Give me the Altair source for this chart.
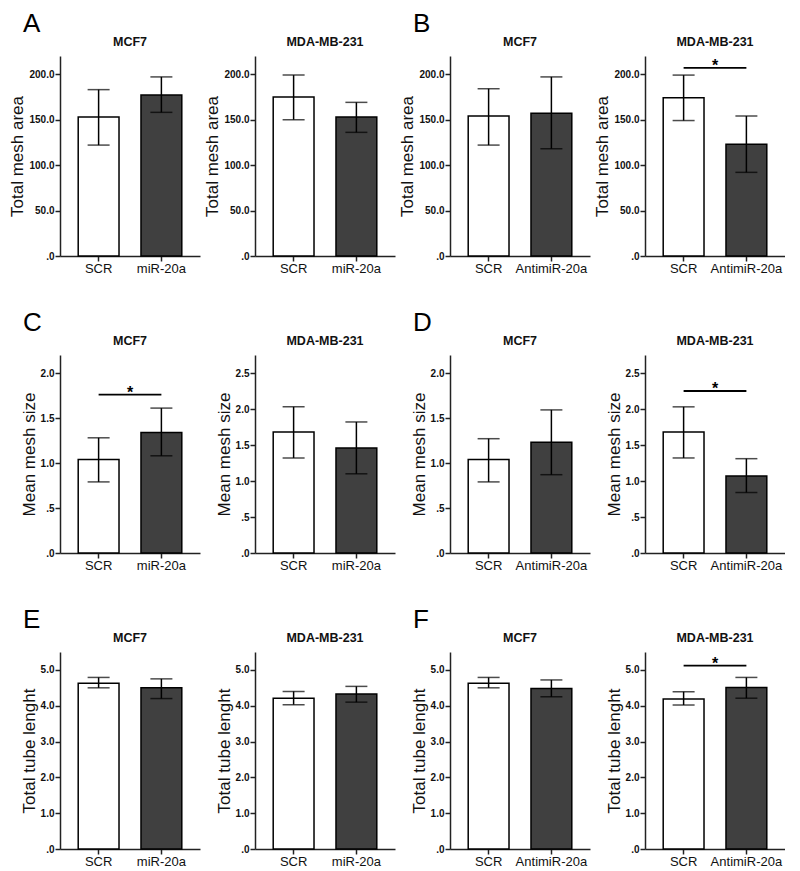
import altair as alt
import pandas as pd

FONT = "Liberation Sans, Arial, Helvetica, sans-serif"

GROUPS_MIR = ["SCR", "miR-20a"]
GROUPS_ANTI = ["SCR", "AntimiR-20a"]

LETTERS = ["A", None, "B", None, "C", None, "D", None, "E", None, "F", None]
CELLS = ["MCF7", "MDA-MB-231"] * 6
YTITLES = ["Total mesh area"] * 4 + ["Mean mesh size"] * 4 + ["Total tube lenght"] * 4
GROUP_SETS = [GROUPS_MIR, GROUPS_MIR, GROUPS_ANTI, GROUPS_ANTI] * 3

MEANS = [[153, 177], [175, 153], [154, 157], [174, 123],
         [1.04, 1.34], [1.68, 1.46], [1.04, 1.23], [1.68, 1.07],
         [4.63, 4.50], [4.21, 4.33], [4.63, 4.48], [4.19, 4.51]]
LOWS = [[122, 158], [150, 136], [122, 118], [149, 92],
        [0.79, 1.08], [1.32, 1.10], [0.79, 0.87], [1.32, 0.84],
        [4.50, 4.20], [4.03, 4.10], [4.50, 4.25], [4.02, 4.21]]
HIGHS = [[183, 197], [199, 169], [184, 197], [199, 154],
         [1.28, 1.61], [2.03, 1.82], [1.27, 1.59], [2.03, 1.31],
         [4.79, 4.75], [4.40, 4.54], [4.79, 4.72], [4.39, 4.79]]
YMAX = [220] * 4 + [2.2, 2.75, 2.2, 2.75] + [5.5] * 4
YTICKS = [[0, 50, 100, 150, 200]] * 4 + [
    [0, 0.5, 1, 1.5, 2], [0, 0.5, 1, 1.5, 2, 2.5],
    [0, 0.5, 1, 1.5, 2], [0, 0.5, 1, 1.5, 2, 2.5]] + [[0, 1, 2, 3, 4, 5]] * 4
SIG = [None, None, None, 207, 1.76, None, None, 2.25, None, None, None, 5.12]

W = 140
ROW_H = [200, 198, 197]
LABEL_EXPR = ("datum.value < 1 ? substring(format(datum.value, '.1f'), 1) "
              ": format(datum.value, '.1f')")


def panel(i):
    groups = GROUP_SETS[i]
    df = pd.DataFrame({"group": groups, "mean": MEANS[i],
                       "lo": LOWS[i], "hi": HIGHS[i]})
    xscale = alt.Scale(domain=groups, paddingInner=0.35, paddingOuter=0.29)
    xaxis = alt.Axis(title=None, labelAngle=0, labelFontSize=13,
                     labelPadding=1, tickSize=5)
    yscale = alt.Scale(domain=[0, YMAX[i]], nice=False, zero=True)
    yaxis = alt.Axis(title=YTITLES[i], values=YTICKS[i], labelExpr=LABEL_EXPR,
                     labelFontSize=10, labelFontWeight="bold", labelPadding=1,
                     labelOverlap=False, tickSize=5, titleFontSize=17,
                     titleFontWeight="normal", titlePadding=2)

    def xs(field="group"):
        return alt.X(f"{field}:N", sort=groups, scale=xscale, axis=xaxis)

    def ys(field):
        return alt.Y(f"{field}:Q", scale=yscale, axis=yaxis)

    base = alt.Chart(df)
    bars = base.mark_bar(stroke="black", strokeWidth=1.5).encode(
        x=xs(), y=ys("mean"),
        fill=alt.condition(alt.datum.group == "SCR", alt.value("white"),
                           alt.value("#404040")),
    )
    err = base.mark_rule(color="black", strokeWidth=1.5).encode(
        x=xs(), y=ys("lo"), y2="hi:Q")
    cap_lo = base.mark_tick(color="black", size=22, thickness=1.5).encode(
        x=xs(), y=ys("lo"))
    cap_hi = base.mark_tick(color="black", size=22, thickness=1.5).encode(
        x=xs(), y=ys("hi"))
    layers = [bars, err, cap_lo, cap_hi]
    if SIG[i] is not None:
        sdf = pd.DataFrame({"group": [groups[0]], "b": [groups[1]], "y": [SIG[i]]})
        sbase = alt.Chart(sdf)
        layers.append(sbase.mark_rule(color="black", strokeWidth=1.8).encode(
            x=xs(), x2="b:N", y=ys("y")))
        layers.append(sbase.mark_text(text="*", fontSize=16, fontWeight="bold",
                                      baseline="alphabetic", dy=3, font=FONT,
                                      color="black").encode(
            x=alt.value(W / 2), y=ys("y")))
    tdf = pd.DataFrame({"t": [CELLS[i]]})
    layers.append(alt.Chart(tdf).mark_text(
        align="center", baseline="middle", fontSize=12.5, fontWeight="bold",
        font=FONT, color="#111").encode(
        x=alt.value(W / 2), y=alt.value(-14), text="t:N"))
    if LETTERS[i]:
        ldf = pd.DataFrame({"t": [LETTERS[i]]})
        layers.append(alt.Chart(ldf).mark_text(
            align="left", baseline="top", fontSize=26, font=FONT,
            color="black").encode(x=alt.value(-37), y=alt.value(-45),
                                  text="t:N"))
    return alt.layer(*layers).properties(width=W, height=ROW_H[i // 4])


chart = alt.concat(*[panel(i) for i in range(12)], columns=4,
                   spacing={"row": 99, "column": 55}, bounds="flush").properties(
    padding={"top": 3, "left": 0, "right": 0, "bottom": 0}, background="white"
).configure_view(stroke=None).configure_axis(
    grid=False, domainColor="#222", domainWidth=1.5, tickColor="#222",
    tickWidth=1.5, labelColor="#111", titleColor="#111",
    labelFont=FONT, titleFont=FONT
)

chart.save("out.html", embed_options={"renderer": "svg", "actions": False})
